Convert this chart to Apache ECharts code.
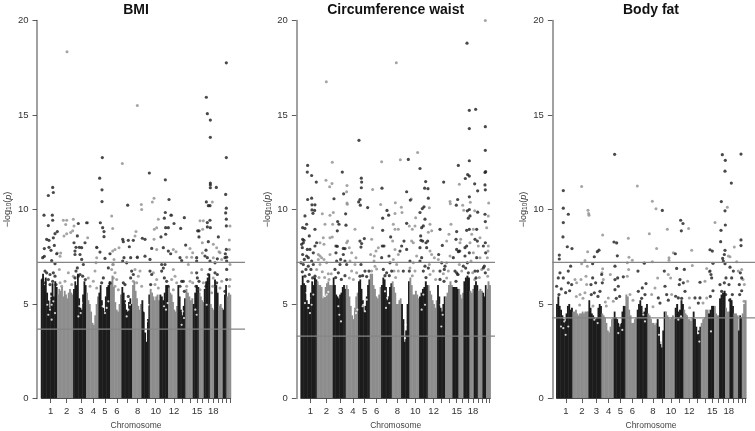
<!DOCTYPE html>
<html><head><meta charset="utf-8">
<style>html,body{margin:0;padding:0;background:#fff}#main{width:755px;height:431px;filter:blur(.35px)}</style>
<script src="https://cdn.jsdelivr.net/npm/echarts@6/dist/echarts.min.js"></script>
</head><body><div id="main"></div>
<script>
const chromWidths=[49,48,39,37,35,34,32,28,25,29,26,28,24,22,18,15,18,13,12,14,11,13];
const tickPos=[29,77,120,157,192,228,258,290,317,344,370,399,423,447,468,485,502,517,532,545,557,567];
const labelPos=[29,77,120,157,192,228,290,344,399,468,517];
const labelText=['1','2','3','4','5','6','8','10','12','15','18'];
const titles=['BMI','Circumference waist','Body fat'];
const bmiLines=[7.2,3.67], waistLines=[7.2,3.3], fatLines=[7.2,4.27];

const bmiEnvelope=[[6.3,6.6,6.0,6.4,5.6,5.2,4.8,5.6,6.1,5.4,6.2,5.9],[5.5,5.8,5.7,5.9,5.4,5.7,5.5,5.3,5.6,5.8,5.6,5.5],[5.8,6.2,6.0,6.6,5.3,4.8,4.7,5.5,6.2,6.0],[5.6,5.2,5.0,4.6,4.0,3.9,4.4,5.0,5.4],[5.6,6.0,5.2,4.8,4.6,5.4,5.9,6.0,6.2],[6.2,6.5,5.9,5.1,4.7,4.6,5.0,5.5],[5.9,5.6,5.2,4.7,4.6,5.1,5.3,5.0],[6.0,6.2,5.7,5.3,4.9,4.7,5.0],[5.2,4.6,3.5,3.0,4.2,5.5],[5.8,5.6,5.4,5.2,5.4,5.5,5.2],[5.5,5.4,5.2,5.6,6.0,6.0],[5.9,5.6,5.5,5.1,4.7,4.6,4.9],[6.0,5.4,4.7,4.4,4.9,5.3],[5.8,5.6,5.4,5.2,5.3],[5.0,5.6,6.0,5.9],[5.6,5.4,5.2,5.1],[5.8,6.2,6.4,6.6],[5.0,4.8,4.7],[6.3,6.0,5.6],[4.9,5.0,4.8],[4.7,5.5,6.0],[5.4,5.6,5.5]];
const waistEnvelope=[[6.0,6.5,6.1,6.0,5.2,5.0,5.0,5.6,6.2,6.0,6.4,6.3],[6.2,6.0,6.0,5.9,5.3,5.4,5.9,6.1,6.2,6.0,6.0,6.0],[6.4,6.0,5.5,5.4,5.3,5.5,5.6,5.9,6.0,5.8],[6.0,5.8,5.4,4.9,4.4,4.2,4.8,5.4,5.6],[6.2,6.3,5.8,5.2,4.6,4.9,5.4,6.0,6.3],[6.6,6.6,6.0,5.8,5.4,5.3,5.5,5.9],[6.0,6.4,6.3,5.9,5.2,5.4,5.9,6.1],[6.2,5.9,5.6,5.0,5.0,5.2,5.3],[5.0,4.2,3.0,3.6,5.0,6.2],[6.4,6.0,5.5,5.5,5.7,5.5,5.3],[5.4,5.6,5.8,5.9,6.2,6.0],[6.0,5.7,5.5,5.2,5.0,4.8,5.2],[6.0,5.4,4.8,4.6,5.0,5.4],[5.4,5.6,6.0,6.2,6.0],[5.9,5.9,5.9,5.8],[5.8,5.5,5.3,5.6],[6.2,6.4,6.5,6.4],[5.7,5.6,5.8],[6.0,6.2,6.0],[5.7,5.8,5.7],[5.6,5.4,6.0],[5.8,6.2,6.0]];
const fatEnvelope=[[5.0,5.4,4.9,4.7,4.4,4.2,4.1,4.5,4.9,5.0,4.7,4.8],[4.6,4.6,4.7,4.5,4.4,4.5,4.5,4.6,4.5,4.6,4.6,4.6],[5.2,4.8,4.5,4.4,4.3,4.2,4.3,4.8,5.0,4.9],[4.5,4.4,4.3,4.0,3.6,3.5,3.8,4.2,4.3],[4.6,4.3,4.2,4.0,3.8,4.0,4.6,4.9,4.9],[5.5,5.4,4.7,4.4,4.0,4.0,4.2,4.3],[4.7,5.0,5.2,4.9,4.5,4.6,4.8,5.0],[4.5,4.4,4.2,4.0,4.0,3.9,4.0],[4.2,3.8,3.0,2.7,3.6,4.6],[4.6,4.4,4.3,4.2,4.3,4.4,4.2],[4.8,5.0,4.6,4.7,5.2,5.0],[4.7,4.5,4.4,4.2,4.2,4.1,4.3],[4.6,4.2,3.8,3.4,3.6,3.8],[4.0,4.2,4.3,4.7,4.7],[4.5,4.7,4.9,4.9],[4.9,4.5,4.4,4.4],[5.3,5.5,5.6,5.7],[4.8,4.6,4.6],[5.3,5.2,4.9],[4.5,4.5,4.4],[3.6,4.4,4.3],[4.5,5.0,5.2]];

const bmiGaps=[[25,5.23],[32,4.96],[27,4.7],[37,5.14],[22,4.43],[32,4.17],[42,4.52],[29,5.41],[19,4.96],[115,4.88],[119,4.52],[112,4.34],[122,5.05],[189,5.14],[197,4.79],[192,4.52],[202,5.14],[185,4.88],[255,5.05],[262,4.7],[257,4.34],[267,4.96],[312,4.61],[317,4.08],[314,3.55],[322,4.96],[369,4.88],[375,4.7],[380,5.05],[425,4.61],[429,4.26],[422,3.9],[463,4.7],[467,4.43],[497,4.96]];
const waistGaps=[[18,5.59],[26,5.32],[33,4.96],[23,4.79],[38,5.5],[13,5.05],[28,4.52],[78,5.5],[83,5.64],[73,5.41],[116,4.43],[121,4.08],[113,4.88],[158,4.7],[166,4.52],[170,4.7],[186,4.88],[193,4.61],[188,4.96],[198,5.23],[253,5.67],[260,5.32],[256,4.79],[266,5.05],[310,4.61],[315,3.9],[313,3.19],[318,5.05],[368,5.5],[373,4.96],[363,4.7],[420,4.96],[426,4.43],[422,3.81]];
const fatGaps=[[21,3.72],[28,3.37],[24,4.08],[14,3.81],[36,3.81],[114,4.17],[124,3.99],[191,3.99],[198,3.63],[186,3.46],[261,4.43],[266,4.08],[308,3.37],[314,2.93],[366,4.17],[374,4.34],[426,3.46],[429,3.01],[464,3.55]];

const bmiBlack=[[22,10.74],[35,11.17],[37,10.9],[9,9.7],[34,9.7],[184,12.75],[176,11.66],[183,11.04],[183,10.42],[260,10.23],[325,11.93],[373,11.57],[384,10.53],[373,9.84],[496,15.94],[499,15.07],[508,14.73],[508,13.82],[508,11.4],[508,11.3],[508,11.15],[526,11.17],[496,10.4],[502,10.2],[507,10.2],[556,17.76],[556,12.75],[554,10.8],[556,10.07],[554,9.82],
[22,9.15],[35,9.43],[49,8.83],[37,8.5],[42,8.72],[17,8.42],[24,8.37],[10,7.93],[24,8],[30,7.84],[40,8.1],[5,7.45],[10,7.52],[47,7.66],[32,7.3],[42,7.13],[12,6.74],[17,6.65],[27,6.56],[37,6.65],[42,6.47],[5,6.29],[12,6.12],[27,6.03],[35,6.2],[45,6.03],[22,6.29],
[112,9.26],[99,8.24],[109,8.6],[102,7.8],[105,8],[115,8],[122,7.98],[117,7.62],[102,7.62],[132,8.24],[137,9.3],[122,7.36],[127,7.09],[109,6.91],[105,6.74],[117,6.56],[102,6.38],[112,6.47],[125,6.47],[133,6.29],
[178,9.3],[185,9.04],[189,8.83],[189,8.56],[167,8],[177,7.75],[192,7.41],[207,7.66],[202,6.91],[207,6.1],[187,6.38],[182,6.12],
[245,8.42],[247,8.3],[262,8.37],[277,8.37],[265,8.03],[249,7.45],[245,7.27],[257,7.18],[269,7.45],[289,7.48],[272,6.74],[277,6.56],[269,6.38],[247,6.12],[252,6.03],[262,5.4],
[304,8.48],[312,8.42],[332,7.94],[312,7.53],[327,7.36],[332,6.56],[327,6.74],[329,6.03],
[370,9.54],[360,8.55],[374,8.69],[374,9.04],[382,9.04],[367,7.98],[399,9.26],[390,9.7],[382,7.8],[389,7.66],[362,7.09],[367,6.9],[372,7.09],[362,6.74],[370,6.38],[377,6.2],[382,5.94],
[430,9.57],[419,9],[434,8.12],[417,7.45],[422,7.3],[422,6.2],[427,6.2],[417,5.94],[430,5.67],
[474,8.87],[470,8.87],[474,8.55],[467,7.45],[467,7.27],[467,6.65],[469,6.38],[465,5.94],[474,6.2],
[507,9.43],[499,9.31],[499,9.08],[508,9.04],[502,8.3],[495,7.85],[492,7.54],[499,7.45],[507,7.27],[507,6.83],[502,6.56],[499,6.12],[495,5.94],
[532,8.55],[529,7.39],[522,7.18],[522,6.65],[529,6.56],[527,6.12],
[556,9.49],[556,9.13],[556,7.89],[553,7.66],[557,7.48],[552,7.45],[557,7.27],[557,6.83],[557,6.29],[552,5.67]];
const bmiGray=[[78,18.34],[289,15.5],[244,12.44],[301,10.27],[302,10],[334,10.4],[339,10.6],[514,10.4],
[49,7.7],[59,7.7],[57,7.53],[69,8.6],[67,9.43],[77,9.43],[74,9.2],[97,9.49],[99,9.13],[77,8.72],[89,8.78],[95,8.87],[55,6.83],[140,9.3],[140,8.5],[167,7.45],[165,7.18],[168,7.98],[212,9.66],[215,9],[215,7.8],[222,7.89],[234,7.98],[219,7.36],[215,7.09],[282,8.6],[285,8.83],[289,7.45],[339,8.42],[340,8.95],[352,9.49],[347,9.04],[347,7.89],[392,9.7],[397,7.89],[405,7.77],[447,7.94],[455,7.71],[437,7.48],[452,7.48],[477,9.4],[487,9.4],[485,8.95],[484,8.24],[484,7.7],[517,8.16],[527,7.98],[534,7.77],[517,7.45],[537,7.71],[542,7.36],[567,9.13],[565,8.39],[565,7.89],[567,7.09],
[82,6.65],[97,6.47],[72,6.2],[92,6.03],[57,6.12],[62,5.94],[142,6.38],[162,6.74],[157,6.2],[167,5.85],[147,5.94],[217,7.09],[212,6.83],[222,6.65],[217,6.38],[227,6.29],[222,5.94],[232,5.76],[282,6.83],[297,6.74],[292,6.47],[277,6.2],[287,6.12],[302,5.94],[337,6.65],[347,6.29],[342,6.03],[352,5.85],[397,6.83],[402,6.47],[392,6.29],[407,6.12],[397,5.76],[442,7.09],[452,6.65],[447,6.2],[437,5.94],[455,6.12],[482,6.83],[487,6.12],[477,5.76],[517,6.38],[515,5.94],[512,5.59],[542,6.2],[537,5.85],[567,6.29],[565,5.94]];

const waistBlack=[[21,12.33],[20,11.98],[33,11.8],[47,11.45],[21,10.53],[33,10.6],[34,10.25],[43,10.25],[34,9.98],[42,9.95],[37,9.8],[125,11.98],[129,10.83],[100,10.57],[135,9.77],[175,13.66],[182,11.66],[183,11.45],[182,11.15],[178,10.53],[174,10.4],[179,10.23],[201,10.1],[244,11.13],[259,9.95],[318,10.94],[323,12.65],[358,12.17],[329,10.5],[375,11.48],[372,11.13],[382,11.1],[383,10.6],[370,10.14],[365,10.05],[358,9.84],[429,11.45],[473,12.33],[471,10.53],[467,10.23],[499,18.8],[506,15.25],[525,15.3],[506,14.28],[506,12.58],[501,11.85],[506,11.77],[494,11.64],[522,11.36],[506,10.67],[531,10.99],[506,10],[500,9.93],[531,9.86],[554,14.38],[554,13.13],[555,12],[553,11.96],[553,11.3],[554,11.04],
[13,9.66],[18,9.22],[6,9.04],[13,9],[43,8.95],[26,8.6],[6,8.42],[10,8.37],[3,8.16],[8,8.24],[5,7.98],[20,7.89],[43,8.07],[38,7.71],[18,7.54],[28,7.89],[6,7.62],[11,7.36],[23,7.45],[48,8.24],[33,7.27],[1,7.18],[8,7.09],[23,7],[38,7.09],[16,6.83],[31,6.83],[26,6.56],[43,6.47],[13,6.47],[5,6.7],[36,6.38],[22,6.2],
[111,9.36],[115,9.22],[136,9.17],[110,8.87],[106,8.07],[110,8.05],[128,7.94],[133,7.93],[106,7.71],[128,7.62],[120,7.36],[108,7.27],[103,6.83],[113,6.65],[118,7.09],[133,7.27],[138,7.09],[105,6.4],[122,6.3],[133,6.5],
[178,8.33],[191,8.46],[183,8.2],[181,8.01],[181,7.09],[193,6.74],[205,6.74],[178,6.47],[186,6.5],[198,6.45],
[246,9.54],[264,9.7],[246,8.9],[270,8.55],[245,8.07],[250,8.07],[243,7.45],[265,7.54],[268,7.18],[273,6.74],[248,6.83],[258,6.65],[253,6.5],[266,6.5],
[303,8.07],[310,8.33],[318,9.27],[308,6.74],[298,7.8],[318,7.89],[328,7.27],[326,6.74],
[360,8.6],[366,8.33],[373,9.49],[368,9.13],[363,9.04],[361,8.37],[376,8.24],[381,8.33],[358,7.98],[378,7.98],[363,7.45],[358,7.27],[373,7],[383,6.9],[368,6.74],[376,6.4],
[418,8.95],[425,8.1],[414,7.62],[433,7],[423,7.18],[418,6.74],[431,6.83],[418,6.3],[430,6.2],
[468,8.83],[466,8.42],[468,7.89],[473,7.77],[463,6.74],[468,6.65],[471,6.56],[458,7.45],[476,7.8],[466,6.2],
[503,9.54],[508,9.66],[498,8.9],[506,8.95],[493,7.98],[498,8.07],[493,7.54],[506,7.71],[500,7.18],[488,7],[503,6.65],[495,6.9],
[528,8.95],[523,8.42],[530,8.33],[528,7.45],[523,6.74],[531,6.74],[526,6.38],
[553,9.75],[554,9.36],[554,8.24],[548,8.07],[555,7.71],[551,7],[548,6.91],[554,6.65]];
const waistGray=[[77,16.76],[287,17.77],[554,20],[95,12.5],[243,12.53],[299,12.63],[351,13.02],[76,11.55],[94,11.38],[87,11.2],[139,11.27],[138,10.94],[139,10.35],[140,10.28],[216,11.06],[240,10.27],[284,10.36],[302,10.12],[283,9.79],[304,9.84],[332,10.55],[386,10.09],[476,11.34],[448,10.42],[449,10.3],[486,10.23],[489,9.96],[509,10.39],[522,9.93],[564,10.35],[65,9.77],[98,9.84],[88,9.7],
[58,8.24],[53,7.62],[58,7.54],[73,9.22],[96,9.22],[88,8.51],[95,8.55],[68,8.51],[70,8.16],[53,7.36],[63,7.45],[70,7.36],[78,7.18],[88,7.62],[58,7.09],[48,6.83],[65,6.7],[83,6.6],[92,6.6],[72,6.4],[55,6.4],[85,6.3],
[141,8.33],[138,8.24],[163,8.95],[153,7.71],[146,7.98],[166,7.45],[148,7.27],[163,7.09],[153,6.74],[146,6.38],[168,6.65],[158,6.3],
[216,9.04],[213,8.42],[221,7.54],[210,7.62],[220,7.27],[223,7],[213,6.74],[226,7.8],[233,7.98],[228,6.85],
[278,9.22],[283,8.95],[293,8.95],[276,8.33],[293,7.62],[283,7.89],[278,7.36],[288,7.09],[280,6.74],[293,6.74],[285,6.4],
[326,9.13],[335,8.95],[343,9.13],[345,9.57],[333,8.33],[338,8.24],[348,7.54],[338,7.18],[328,6.9],[343,6.74],[335,6.5],
[388,9.22],[393,8.87],[383,8.8],[388,7.8],[393,7.62],[386,7.09],[401,7.45],[398,6.74],[388,6.56],[405,6.3],
[438,8.33],[451,9.22],[445,8.69],[448,7.54],[438,7.18],[413,7.36],[443,6.74],[438,6.38],[428,6.6],
[478,8.24],[480,8.42],[478,7.8],[476,7.09],[483,6.74],[473,6.56],
[513,8.69],[518,8.95],[508,8.24],[518,7.71],[511,7.27],[516,6.65],[522,6.3],
[538,8.51],[533,8.07],[538,7.45],[543,6.83],[536,6.4],
[563,9.66],[558,9.04],[563,8.07],[562,7.8],[560,7.45],[563,6.83],[561,6.47]];

const fatBlack=[[21,11],[21,10.07],[36,9.75],[175,12.92],[318,9.95],[498,12.9],[507,12.6],[506,12.03],[525,11.4],[495,10.42],[506,9.93],[554,12.93],
[21,9.31],[20,8.55],[33,8.03],[47,7.93],[9,7.59],[9,7.38],[114,7.5],[123,7.77],[128,7.85],[109,7.13],[173,8.28],[181,8.23],[183,7.55],[176,7],[201,6.44],[245,6.74],[264,7.16],[269,6.08],[258,5.85],[324,6.74],[361,6.88],[373,9.43],[380,9.26],[375,8.87],[357,7.66],[384,6.83],[371,6.29],[381,6.12],[369,6.03],[431,6.15],[461,7.87],[468,7.8],[470,7.15],[461,6.74],[464,6.56],[466,6.38],[494,8.9],[507,9.18],[493,8.3],[506,7.84],[504,7.62],[499,7.41],[501,7.27],[506,7.13],[509,6.38],[491,6.03],[504,6.12],[521,6.95],[531,6.74],[526,6.38],[518,6.03],[554,8.39],[554,8.09],[552,6.65],[556,6.38],[549,6.03],
[11,6.65],[36,6.74],[43,7],[6,6.38],[21,6.38],[36,6.12],[46,6.03],[1,5.94],[15,5.8],[28,5.6],[40,5.7],[8,5.5],[109,6.38],[104,6.03],[118,6.12],[136,6.56],[138,6.12],[131,5.67],[114,5.59],[105,5.5],[125,5.4],[176,6.29],[184,6.38],[186,5.94],[176,5.76],[190,5.4],[180,5.3],[246,5.67],[266,5.5],[256,5.3],[306,5.32],[311,5.05],[326,5.94],[331,5.5],[336,5.2],[366,5.32],[358,5.41],[386,5.67],[376,5.3],[416,5.32],[426,5.05],[431,5.32],[470,5.7],[462,5.4],[496,5.67],[508,5.5],[528,5.5],[520,5.2],[550,5.5],[556,5.7]];
const fatGray=[[76,11.22],[243,11.24],[95,9.96],[97,9.79],[288,10.44],[299,10.04],[513,10.12],
[98,9.7],[139,8.65],[94,7.77],[86,7.3],[76,7.13],[93,7],[89,6.47],[56,6.29],[61,6.12],[74,6.29],[91,6.03],[71,5.5],[86,5.59],[60,5.4],[80,5.3],[139,6.86],[137,6.65],[162,6.56],[141,6.29],[156,5.32],[171,5.14],[147,5.1],[216,8.48],[218,7.48],[228,7.32],[213,7.18],[217,6.83],[213,6.47],[221,5.5],[230,5.2],[279,8.72],[333,8.95],[301,7.93],[288,7.23],[304,6.38],[296,5.85],[286,5.5],[338,7.45],[338,7.32],[351,7.71],[336,6.56],[343,6.38],[346,5.5],[397,8.99],[406,7.85],[408,7.04],[394,6.2],[399,5.32],[476,9.31],[451,6.88],[459,6.7],[446,6.2],[451,5.32],[534,8.01],[521,7.5],[541,7.23],[516,7.54],[556,6.83],[560,6.29],[564,6.03],[563,5.14],[546,6.74],[70,4.95],[110,4.9],[150,4.9],[290,4.85],[400,4.8],[440,5.05]];

const panels=[
 {left:37,width:208,xMin:-12,xMax:612,env:bmiEnvelope,gaps:bmiGaps,black:bmiBlack,gray:bmiGray,lines:bmiLines,cx:136},
 {left:296.3,width:198.7,xMin:-13,xMax:583,env:waistEnvelope,gaps:waistGaps,black:waistBlack,gray:waistGray,lines:waistLines,cx:395.7},
 {left:552.3,width:202.7,xMin:-12,xMax:596,env:fatEnvelope,gaps:fatGaps,black:fatBlack,gray:fatGray,lines:fatLines,cx:651}
];
const DARK='#1c1c1c',MID='#8d8d8d',FONT='"Liberation Sans",Arial,sans-serif';
const labelMap={};labelPos.forEach((p,i)=>labelMap[p]=labelText[i]);
function bins(env){
  const out=[];let s=0;
  env.forEach((arr,c)=>{const w=chromWidths[c]/arr.length;
    arr.forEach((v,i)=>out.push([s+i*w,s+(i+1)*w,v,c%2]));s+=chromWidths[c];});
  return out;
}
const grid=[],xAxis=[],yAxis=[],series=[],title=[];
panels.forEach((p,i)=>{
  grid.push({left:p.left,width:p.width,top:20.5,height:378});
  title.push({text:titles[i],left:p.cx,top:3,padding:0,textAlign:'center',textStyle:{fontFamily:FONT,fontSize:14,fontWeight:'bold',color:'#111'}});
  title.push({text:'Chromosome',left:p.cx,top:421,padding:0,textAlign:'center',textStyle:{fontFamily:FONT,fontSize:8.5,fontWeight:'normal',color:'#444'}});
  xAxis.push({gridIndex:i,type:'value',min:p.xMin,max:p.xMax,splitLine:{show:false},axisLine:{show:false},
    axisTick:{show:true,length:4.5,customValues:tickPos,lineStyle:{color:'#333',width:.8}},
    axisLabel:{show:true,customValues:labelPos,margin:7.5,fontFamily:FONT,fontSize:9.5,color:'#333',hideOverlap:false,formatter:v=>labelMap[v]||''}});
  yAxis.push({gridIndex:i,type:'value',min:0,max:20,interval:5,splitLine:{show:false},
    axisLine:{show:true,onZero:false,lineStyle:{color:'#8a8a8a',width:1.6}},
    axisTick:{show:true,length:4.5,lineStyle:{color:'#333',width:.8}},
    axisLabel:{margin:8.5,fontFamily:FONT,fontSize:9.5,color:'#333'},
    name:'−log{s|10}({i|p})',nameLocation:'middle',nameGap:24,nameRotate:90,
    nameTextStyle:{fontFamily:FONT,fontSize:9,color:'#333',rich:{s:{fontFamily:FONT,fontSize:6.5,color:'#333',padding:[3,0,0,0]},i:{fontFamily:FONT,fontSize:9,fontStyle:'italic',color:'#333'}}}});
  series.push({type:'custom',xAxisIndex:i,yAxisIndex:i,silent:true,z:2,animation:false,clip:false,
    data:bins(p.env),encode:{x:[0,1],y:2},
    renderItem:(params,api)=>{
      const a=api.coord([api.value(0),api.value(2)]),b=api.coord([api.value(1),0]);
      return {type:'rect',shape:{x:a[0]-.25,y:a[1],width:b[0]-a[0]+.5,height:b[1]-a[1]},style:{fill:api.value(3)?MID:DARK,stroke:null}};
    }});
  series.push({type:'scatter',xAxisIndex:i,yAxisIndex:i,data:p.gaps,symbolSize:2.2,silent:true,z:3,animation:false,itemStyle:{color:'#fff',borderWidth:0}});
  series.push({type:'scatter',xAxisIndex:i,yAxisIndex:i,data:p.gray,symbolSize:3,silent:true,z:4,animation:false,itemStyle:{color:MID,borderWidth:0}});
  series.push({type:'scatter',xAxisIndex:i,yAxisIndex:i,data:p.black,symbolSize:3.2,silent:true,z:5,animation:false,itemStyle:{color:DARK,borderWidth:0}});
  series.push({type:'line',xAxisIndex:i,yAxisIndex:i,data:[[0,0],[570,0]],symbol:'none',silent:true,z:6,animation:false,lineStyle:{color:'#333',width:.8}});
  p.lines.forEach(t=>series.push({type:'line',xAxisIndex:i,yAxisIndex:i,data:[[p.xMin,t],[p.xMax,t]],symbol:'none',silent:true,z:7,animation:false,lineStyle:{color:'#858585',width:1.2}}));
});
const chart=echarts.init(document.getElementById('main'),null,{renderer:'canvas'});
chart.setOption({animation:false,backgroundColor:'#fff',tooltip:{show:false},title,grid,xAxis,yAxis,series});
</script></body></html>
